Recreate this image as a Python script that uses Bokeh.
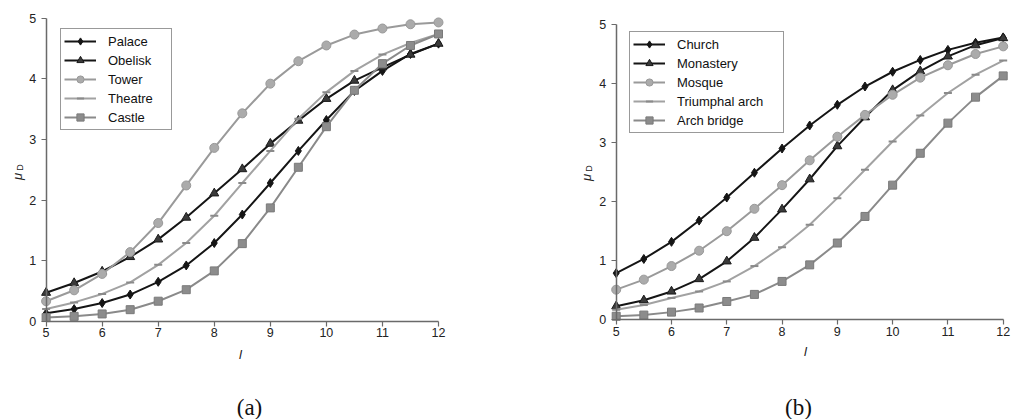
import math
from bokeh.plotting import figure
from bokeh.models import Label, Range1d, FixedTicker
from bokeh.layouts import row
from bokeh.embed import file_html
from bokeh.resources import INLINE

# ---------------- data ----------------
I_vals = [5, 5.5, 6, 6.5, 7, 7.5, 8, 8.5, 9, 9.5, 10, 10.5, 11, 11.5, 12]

palace  = [0.13, 0.20, 0.30, 0.44, 0.65, 0.92, 1.29, 1.76, 2.28, 2.81, 3.32, 3.80, 4.13, 4.41, 4.58]
obelisk = [0.47, 0.63, 0.82, 1.06, 1.35, 1.71, 2.11, 2.51, 2.93, 3.31, 3.67, 3.97, 4.19, 4.40, 4.58]
tower   = [0.33, 0.51, 0.78, 1.14, 1.62, 2.24, 2.86, 3.43, 3.92, 4.29, 4.55, 4.73, 4.83, 4.90, 4.93]
theatre = [0.20, 0.31, 0.45, 0.64, 0.93, 1.29, 1.74, 2.28, 2.81, 3.34, 3.78, 4.13, 4.40, 4.59, 4.74]
castle  = [0.06, 0.08, 0.12, 0.19, 0.33, 0.52, 0.83, 1.28, 1.87, 2.54, 3.21, 3.81, 4.25, 4.55, 4.74]

church     = [0.79, 1.03, 1.32, 1.68, 2.07, 2.49, 2.90, 3.29, 3.64, 3.95, 4.20, 4.40, 4.57, 4.69, 4.78]
monastery  = [0.23, 0.33, 0.48, 0.69, 0.99, 1.39, 1.87, 2.38, 2.94, 3.43, 3.89, 4.21, 4.46, 4.65, 4.77]
mosque     = [0.51, 0.68, 0.91, 1.17, 1.50, 1.88, 2.28, 2.70, 3.10, 3.47, 3.81, 4.10, 4.31, 4.50, 4.63]
triumphal  = [0.17, 0.25, 0.37, 0.48, 0.65, 0.91, 1.23, 1.61, 2.06, 2.54, 3.02, 3.46, 3.84, 4.15, 4.39]
archbridge = [0.06, 0.08, 0.13, 0.20, 0.31, 0.43, 0.65, 0.93, 1.30, 1.75, 2.28, 2.82, 3.33, 3.77, 4.13]

names_a = ["Palace", "Obelisk", "Tower", "Theatre", "Castle"]
names_b = ["Church", "Monastery", "Mosque", "Triumphal arch", "Arch bridge"]
x_ticks = [5, 6, 7, 8, 9, 10, 11, 12]
y_ticks = [0, 1, 2, 3, 4, 5]

# ---------------- styles ----------------
STYLES = [
    dict(line="#151515", marker="diamond", size=9, fill="#151515", mline="#151515"),
    dict(line="#151515", marker="triangle", size=9, fill="#3a3a3a", mline="#1a1a1a"),
    dict(line="#9a9a9a", marker="circle", size=9, fill="#ababab", mline="#999999"),
    dict(line="#a2a2a2", marker="dash", size=8, fill="#8a8a8a", mline="#8a8a8a"),
    dict(line="#8a8a8a", marker="square", size=8, fill="#8c8c8c", mline="#7a7a7a"),
]

FONT = "Liberation Sans"
X_LO, X_HI = 5, 12
Y_LO, Y_HI = 0, 5


def make_panel(series, names, width, height, page_x0, page_y0,
               px_xlo, px_xhi, py_ylo, py_yhi,
               legend_box, mu_pos, l_pos, cap_pos, cap_text):
    # pixel anchors -> full-figure data ranges (frame covers the whole figure)
    sx = (px_xhi - px_xlo) / (X_HI - X_LO)
    sy = (py_ylo - py_yhi) / (Y_HI - Y_LO)
    x0 = X_LO - (px_xlo - page_x0) / sx
    x1 = x0 + width / sx
    y1 = Y_LO + (py_ylo - page_y0) / sy
    y0 = y1 - height / sy

    p = figure(width=width, height=height, output_backend="svg", toolbar_location=None,
               x_range=Range1d(x0, x1), y_range=Range1d(y0, y1),
               min_border_left=0, min_border_right=0, min_border_top=0, min_border_bottom=0)
    p.outline_line_color = None
    p.xgrid.visible = False
    p.ygrid.visible = False
    p.background_fill_color = "white"
    p.border_fill_color = "white"

    def to_data(px, py):
        return x0 + (px - page_x0) / sx, y1 - (py - page_y0) / sy

    for vals, name, st in zip(series, names, STYLES):
        p.line(I_vals, vals, line_color=st["line"], line_width=2, legend_label=name)
        if st["marker"] == "dash":
            p.scatter(I_vals, vals, marker="dash", size=st["size"], line_color=st["mline"],
                      line_width=2, legend_label=name)
        else:
            p.scatter(I_vals, vals, marker=st["marker"], size=st["size"], fill_color=st["fill"],
                      line_color=st["mline"], line_width=1, legend_label=name)

    for ax, ticks, bounds, loc in ((p.xaxis[0], x_ticks, (X_LO, X_HI), Y_LO),
                                   (p.yaxis[0], y_ticks, (Y_LO, Y_HI), X_LO)):
        ax.ticker = FixedTicker(ticks=ticks)
        ax.bounds = bounds
        ax.fixed_location = loc
        ax.axis_line_color = "#6a6a6a"
        ax.axis_line_width = 1.5
        ax.major_tick_line_color = "#6a6a6a"
        ax.major_tick_line_width = 1.2
        ax.major_tick_in = 0
        ax.major_tick_out = 5
        ax.minor_tick_line_color = None
        ax.major_label_text_font = FONT
        ax.major_label_text_font_size = "12.5px"
        ax.major_label_text_color = "#222222"
    p.xaxis[0].major_label_standoff = 2
    p.yaxis[0].major_label_standoff = 5

    # legend
    lx0, ly0, lx1, ly1 = legend_box
    pad, gw, stand = 3, 32, 12
    lg = p.legend[0]
    lg.location = (int(round(lx0 - page_x0)), int(round(page_y0 + height - ly1)))
    lg.padding = pad
    lg.spacing = 1
    lg.margin = 0
    lg.label_height = 18
    lg.glyph_height = 18
    lg.glyph_width = gw
    lg.label_standoff = stand
    lg.label_width = int(round((lx1 - lx0) - 2 * pad - gw - stand))
    lg.label_text_font = FONT
    lg.label_text_font_size = "13px"
    lg.label_text_color = "#111111"
    lg.border_line_color = "#333333"
    lg.border_line_width = 1
    lg.background_fill_color = "white"
    lg.background_fill_alpha = 1.0

    # y axis label: mu with subscript D
    mx, my = to_data(*mu_pos)
    dx, dy = to_data(mu_pos[0] + 2, mu_pos[1] - 9)
    p.add_layout(Label(x=mx, y=my, text="μ", angle=math.pi / 2, text_align="center",
                       text_baseline="middle", text_font=FONT, text_font_style="italic",
                       text_font_size="13px", text_color="#222222"))
    p.add_layout(Label(x=dx, y=dy, text="D", angle=math.pi / 2, text_align="center",
                       text_baseline="middle", text_font=FONT,
                       text_font_size="9px", text_color="#222222"))
    # x axis label
    ix, iy = to_data(*l_pos)
    p.add_layout(Label(x=ix, y=iy, text="l", text_align="center", text_baseline="middle",
                       text_font=FONT, text_font_style="italic", text_font_size="13px",
                       text_color="#222222"))
    # caption
    cx, cy = to_data(*cap_pos)
    p.add_layout(Label(x=cx, y=cy, text=cap_text, text_align="center", text_baseline="middle",
                       text_font="Liberation Serif", text_font_size="23px", text_color="#111111"))
    return p


pa = make_panel([palace, obelisk, tower, theatre, castle], names_a,
                width=506, height=419, page_x0=0, page_y0=0,
                px_xlo=45.6, px_xhi=438.0, py_ylo=320.7, py_yhi=17.7,
                legend_box=(60, 31, 170, 130), mu_pos=(17, 176), l_pos=(240, 354),
                cap_pos=(249, 407), cap_text="(a)")
pb = make_panel([church, monastery, mosque, triumphal, archbridge], names_b,
                width=506, height=419, page_x0=506, page_y0=0,
                px_xlo=615.7, px_xhi=1002.7, py_ylo=319.3, py_yhi=24.0,
                legend_box=(629, 36, 782, 133), mu_pos=(586, 177), l_pos=(805, 351),
                cap_pos=(798, 407), cap_text="(b)")

layout = row(pa, pb)
open("out.html", "w").write(file_html(layout, INLINE))
